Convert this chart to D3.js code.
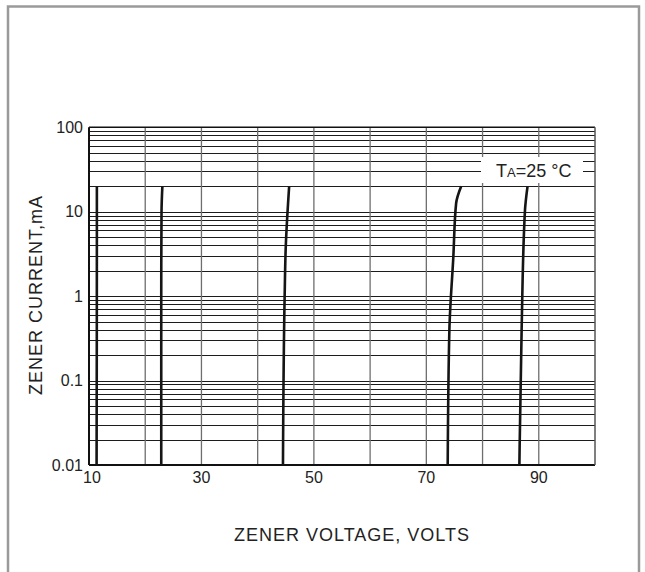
<!DOCTYPE html>
<html>
<head>
<meta charset="utf-8">
<script src="https://cdn.jsdelivr.net/npm/d3@7"></script>
<style>
  body { margin: 0; background: #fff; }
  svg { display: block; font-family: "Liberation Sans", Arial, sans-serif; }
</style>
</head>
<body>
<svg id="chart" width="645" height="572"></svg>
<script>
// Zener current vs zener voltage, five devices at TA = 25 C
// each curve: [volts, mA]
let curve_12v = [[11.4, 20], [11.4, 5], [11.35, 0.01]];
let curve_23v = [[23.05, 20], [22.9, 10], [22.85, 1], [22.85, 0.01]];
let curve_45v = [[45.6, 20], [45.0, 3.9], [44.8, 1], [44.5, 0.01]];
let curve_75v = [[76.2, 20], [75.3, 12.6], [74.8, 2.9], [74.1, 0.4], [73.8, 0.01]];
let curve_87v = [[88.0, 20], [87.55, 10.5], [86.95, 0.4], [86.55, 0.01]];
let curves = [curve_12v, curve_23v, curve_45v, curve_75v, curve_87v];

let x_ticks = [10, 30, 50, 70, 90];
let y_ticks = [0.01, 0.1, 1, 10, 100];
let y_tick_labels = ['0.01', '0.1', '1', '10', '100'];

const svg = d3.select('#chart');

// outer grey frame (no bottom edge)
svg.append('path')
    .attr('d', 'M8,572V6.5H639V572')
    .attr('fill', 'none')
    .attr('stroke', '#9a9a9a')
    .attr('stroke-width', 2.5);

let plot_left = 89, plot_right = 595, plot_top = 127.3, plot_bottom = 465;

const x = d3.scaleLinear().domain([10, 100]).range([plot_left, plot_right]);
const y = d3.scaleLog().domain([0.01, 100]).range([plot_bottom, plot_top]);

const g = svg.append('g');

// horizontal log grid, 1..9 per decade
g.append('g')
    .selectAll('line')
    .data(y.ticks())
    .join('line')
    .attr('x1', plot_left).attr('x2', plot_right)
    .attr('y1', d => Math.round(y(d)) + 0.5)
    .attr('y2', d => Math.round(y(d)) + 0.5)
    .attr('stroke', '#1c1c1c')
    .attr('stroke-width', 1);

// vertical grid every 10 V
g.append('g')
    .selectAll('line')
    .data(x.ticks(9).filter(d => d > 10 && d < 100))
    .join('line')
    .attr('x1', d => x(d)).attr('x2', d => x(d))
    .attr('y1', plot_top).attr('y2', plot_bottom)
    .attr('stroke', '#6e6e6e')
    .attr('stroke-width', 1.3);

// plot border
g.append('line').attr('x1', plot_left).attr('x2', plot_right).attr('y1', plot_top).attr('y2', plot_top)
    .attr('stroke', '#111').attr('stroke-width', 1.5);
g.append('line').attr('x1', plot_left).attr('x2', plot_right).attr('y1', plot_bottom).attr('y2', plot_bottom)
    .attr('stroke', '#111').attr('stroke-width', 1.8);
g.append('line').attr('x1', plot_left).attr('x2', plot_left).attr('y1', plot_top).attr('y2', plot_bottom)
    .attr('stroke', '#111').attr('stroke-width', 2);
g.append('line').attr('x1', plot_right).attr('x2', plot_right).attr('y1', plot_top).attr('y2', plot_bottom)
    .attr('stroke', '#555').attr('stroke-width', 1.5);

// legend box covers the grid
let legend = svg.append('g');
legend.append('rect')
    .attr('x', 481).attr('y', 157)
    .attr('width', 102).attr('height', 26)
    .attr('fill', '#fff');
let lt = legend.append('text')
    .attr('x', 496).attr('y', 177)
    .attr('font-size', 18)
    .attr('fill', '#222');
lt.append('tspan').text('T');
lt.append('tspan').attr('font-size', 13).text('A');
lt.append('tspan').text('=25 \u00B0C');

// curves
const line = d3.line()
    .x(d => x(d[0]))
    .y(d => y(d[1]))
    .curve(d3.curveMonotoneY);

svg.append('g')
    .selectAll('path')
    .data(curves)
    .join('path')
    .attr('d', line)
    .attr('fill', 'none')
    .attr('stroke', '#151515')
    .attr('stroke-width', 2.6)
    .attr('stroke-linecap', 'butt');

// tick labels
svg.append('g')
    .selectAll('text')
    .data(x_ticks)
    .join('text')
    .attr('x', d => x(d) + (d === 10 ? 3 : 0))
    .attr('y', 483)
    .attr('text-anchor', 'middle')
    .attr('font-size', 16)
    .attr('fill', '#222')
    .text(d => d);

svg.append('g')
    .selectAll('text')
    .data(y_ticks)
    .join('text')
    .attr('x', 83)
    .attr('y', d => y(d))
    .attr('dy', '0.36em')
    .attr('text-anchor', 'end')
    .attr('font-size', 16)
    .attr('fill', '#222')
    .text((d, i) => y_tick_labels[i]);

// axis titles
svg.append('text')
    .attr('x', 352).attr('y', 541)
    .attr('text-anchor', 'middle')
    .attr('font-size', 18)
    .attr('letter-spacing', 1)
    .attr('fill', '#222')
    .text('ZENER VOLTAGE, VOLTS');

svg.append('text')
    .attr('transform', 'translate(42,295) rotate(-90)')
    .attr('text-anchor', 'middle')
    .attr('font-size', 18)
    .attr('letter-spacing', 1)
    .attr('fill', '#222')
    .text('ZENER CURRENT,mA');
</script>
</body>
</html>
